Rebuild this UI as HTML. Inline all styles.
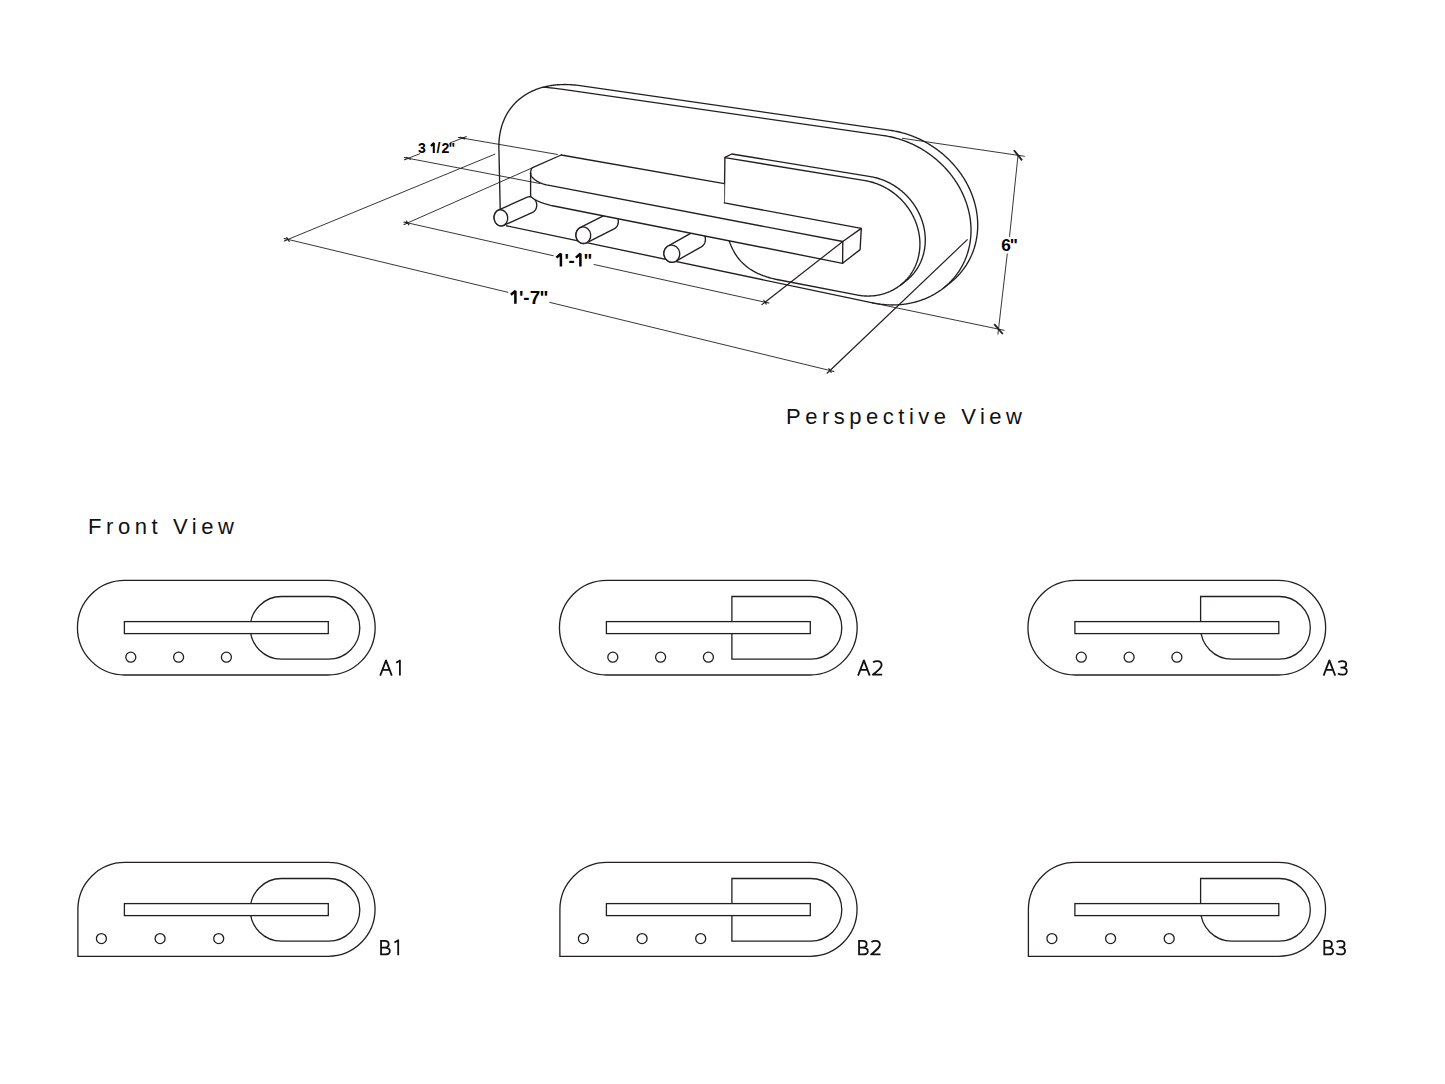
<!DOCTYPE html>
<html><head><meta charset="utf-8">
<style>
html,body{margin:0;padding:0;background:#fff;width:1445px;height:1084px;overflow:hidden}
svg{display:block}
.t{font-family:"Liberation Sans",sans-serif;fill:#111}
.fv{fill:none;stroke:#231f20;stroke-width:1.3}
.wb{fill:#fff;stroke:#231f20;stroke-width:1.3}
</style></head><body>
<svg width="1445" height="1084" viewBox="0 0 1445 1084">
<defs>
  <path id="outA" d="M124.7,580.4H327.9A47.3,47.3 0 0 1 327.9,675H124.7A47.3,47.3 0 0 1 124.7,580.4Z"/>
  <path id="outB" d="M77.9,956.3V909.4A47,47 0 0 1 124.9,862.4H328.1A46.95,46.95 0 0 1 328.1,956.3Z"/>
  <path id="in1" d="M281.5,596.5H328.5A31.3,31.3 0 0 1 328.5,659.1H281.5A31.3,31.3 0 0 1 281.5,596.5Z"/>
  <path id="in2" d="M249.9,596.5H328.5A31.3,31.3 0 0 1 328.5,659.1H249.9Z"/>
  <path id="in3" d="M250.1,596.5H328.5A31.3,31.3 0 0 1 328.5,659.1H281.4A31.3,31.3 0 0 1 250.1,627.8Z"/>
  <rect id="bar" x="124.4" y="621.6" width="203.9" height="12"/>
  <g id="holesA"><circle cx="130.8" cy="657.2" r="5"/><circle cx="178.6" cy="657.2" r="5"/><circle cx="226.4" cy="657.2" r="5"/></g>
  <g id="holesB"><circle cx="101.4" cy="656.6" r="5"/><circle cx="160.1" cy="656.6" r="5"/><circle cx="218.7" cy="656.6" r="5"/></g>
</defs>

<!-- Front views row A -->
<g class="fv">
  <use href="#outA"/><use href="#in1"/><use href="#bar" class="wb"/><use href="#holesA"/>
  <g transform="translate(482,0)"><use href="#outA"/><use href="#in2"/><use href="#bar" class="wb"/><use href="#holesA"/></g>
  <g transform="translate(950.5,0)"><use href="#outA"/><use href="#in3"/><use href="#bar" class="wb"/><use href="#holesA"/></g>
</g>
<!-- Front views row B -->
<g class="fv">
  <use href="#outB"/>
  <g transform="translate(0,282)"><use href="#in1"/><use href="#bar" class="wb"/><use href="#holesB"/></g>
  <g transform="translate(482,0)"><use href="#outB"/><g transform="translate(0,282)"><use href="#in2"/><use href="#bar" class="wb"/><use href="#holesB"/></g></g>
  <g transform="translate(950.5,0)"><use href="#outB"/><g transform="translate(0,282)"><use href="#in3"/><use href="#bar" class="wb"/><use href="#holesB"/></g></g>
</g>

<g fill="none" stroke="#111" stroke-width="1.8" stroke-linejoin="round">
  <g role="img" aria-label="A1"><path transform="translate(380.2,675.6)" d="M0,0L5.8,-15.2L11.6,0M2.7,-5.8H8.9"/><path transform="translate(0,675.6)" d="M396.20,-12.8L399.90,-15.1V0"/></g>
  <g role="img" aria-label="A2"><path transform="translate(858.1,675.6)" d="M0,0L5.8,-15.2L11.6,0M2.7,-5.8H8.9"/><path transform="translate(872.6,675.6)" d="M0.5,-13.3C1.6,-14.1 3,-14.5 4.6,-14.5C7.3,-14.5 9,-12.9 9,-10.7C9,-8.2 7.2,-6.3 0.2,-0.9H9.6"/></g>
  <g role="img" aria-label="A3"><path transform="translate(1323.6,675.6)" d="M0,0L5.8,-15.2L11.6,0M2.7,-5.8H8.9"/><path transform="translate(1337.9,675.6)" d="M0.4,-13.4C1.5,-14.1 2.8,-14.5 4.3,-14.5C6.9,-14.5 8.3,-13.1 8.3,-11.3C8.3,-9.2 6.5,-7.9 4.4,-7.9H2.5M4.4,-7.9C7,-7.9 8.9,-6.3 8.9,-4C8.9,-1.8 7,-0.9 4.3,-0.9C2.7,-0.9 1.1,-1.3 0,-2"/></g>
  <g role="img" aria-label="B1"><path transform="translate(381.05,955.3)" d="M0,0V-15.3M0,-14.4H3.7C6.3,-14.4 7.6,-13 7.6,-11.1C7.6,-9.1 6.1,-7.7 3.5,-7.7H0M3.5,-7.7C6.9,-7.7 8.8,-6.2 8.8,-4C8.8,-1.9 7,-0.9 4,-0.9H0"/><path transform="translate(0,955.3)" d="M394.50,-12.8L398.20,-15.1V0"/></g>
  <g role="img" aria-label="B2"><path transform="translate(859.05,955.3)" d="M0,0V-15.3M0,-14.4H3.7C6.3,-14.4 7.6,-13 7.6,-11.1C7.6,-9.1 6.1,-7.7 3.5,-7.7H0M3.5,-7.7C6.9,-7.7 8.8,-6.2 8.8,-4C8.8,-1.9 7,-0.9 4,-0.9H0"/><path transform="translate(870.9,955.3)" d="M0.5,-13.3C1.6,-14.1 3,-14.5 4.6,-14.5C7.3,-14.5 9,-12.9 9,-10.7C9,-8.2 7.2,-6.3 0.2,-0.9H9.6"/></g>
  <g role="img" aria-label="B3"><path transform="translate(1324.3,955.3)" d="M0,0V-15.3M0,-14.4H3.7C6.3,-14.4 7.6,-13 7.6,-11.1C7.6,-9.1 6.1,-7.7 3.5,-7.7H0M3.5,-7.7C6.9,-7.7 8.8,-6.2 8.8,-4C8.8,-1.9 7,-0.9 4,-0.9H0"/><path transform="translate(1336.2,955.3)" d="M0.4,-13.4C1.5,-14.1 2.8,-14.5 4.3,-14.5C6.9,-14.5 8.3,-13.1 8.3,-11.3C8.3,-9.2 6.5,-7.9 4.4,-7.9H2.5M4.4,-7.9C7,-7.9 8.9,-6.3 8.9,-4C8.9,-1.8 7,-0.9 4.3,-0.9C2.7,-0.9 1.1,-1.3 0,-2"/></g>
</g>
<g class="t" style="font-size:22px">
  <text x="88" y="533.6" letter-spacing="4.58">Front View</text>
  <text x="786.1" y="424.1" letter-spacing="4.5">Perspective View</text>
</g>

<!-- PERSPECTIVE -->
<g id="persp">
<g fill="none" stroke="#231f20" stroke-width="1.35" stroke-linejoin="round" stroke-linecap="round"><path d="M500.20,208.80L498.88,148.26L498.86,146.60L498.87,144.97L498.92,143.39L499.00,141.84L499.10,140.34L499.23,138.86L499.39,137.42L499.57,136.02L499.78,134.65L500.01,133.32L500.26,132.01L500.53,130.74L500.81,129.50L501.12,128.30L501.44,127.12L501.78,125.97L502.13,124.85L502.50,123.76L502.88,122.70L503.27,121.66L503.68,120.65L504.09,119.67L504.52,118.71L504.95,117.78L505.39,116.87L505.84,115.98L506.30,115.12L506.77,114.28L507.24,113.46L507.72,112.66L508.20,111.88L508.69,111.13L509.18,110.39L509.68,109.67L510.18,108.97L510.69,108.29L511.20,107.62L511.71,106.97L512.23,106.34L512.75,105.72L513.27,105.12L513.79,104.53L514.32,103.96L514.85,103.40L515.38,102.85L515.92,102.32L516.45,101.80L516.99,101.29L517.53,100.79L518.08,100.30L518.62,99.82L519.17,99.36L519.72,98.90L520.28,98.46L520.83,98.02L521.39,97.59L521.95,97.17L522.52,96.76L523.09,96.36L523.66,95.97L524.24,95.58L524.81,95.20L525.40,94.83L525.99,94.47L526.58,94.11L527.17,93.76L527.78,93.41L528.38,93.08L529.00,92.74L529.62,92.42L530.24,92.10L530.87,91.78L531.51,91.47L532.16,91.17L532.81,90.87L533.47,90.58L534.14,90.29L534.82,90.01L535.51,89.73L536.21,89.46L536.92,89.19L537.64,88.93L538.37,88.67L539.12,88.42L539.88,88.18L540.65,87.93L541.43,87.70L542.23,87.47L543.04,87.25L543.88,87.03L544.72,86.82L545.59,86.61L546.47,86.42L547.38,86.22L548.30,86.04L549.25,85.86L550.22,85.70L551.21,85.54L552.23,85.39L553.27,85.25L554.34,85.11L555.44,84.99L556.56,84.89L557.72,84.79L558.91,84.71L560.14,84.64L561.40,84.59L562.70,84.55L564.04,84.53L565.41,84.53L566.83,84.55L568.30,84.59L569.81,84.65L571.37,84.74L572.98,84.86L574.64,85.01L576.36,85.19L578.13,85.40L579.97,85.65L890.52,130.37L891.61,130.53L892.70,130.71L893.78,130.89L894.87,131.09L895.95,131.30L897.02,131.53L898.09,131.76L899.16,132.01L900.23,132.26L901.29,132.53L902.35,132.81L903.40,133.10L904.45,133.40L905.49,133.72L906.53,134.04L907.57,134.37L908.60,134.72L909.63,135.07L910.66,135.44L911.67,135.82L912.69,136.20L913.70,136.60L914.71,137.01L915.71,137.43L916.71,137.86L917.70,138.30L918.68,138.74L919.67,139.20L920.64,139.67L921.62,140.15L922.59,140.64L923.55,141.14L924.51,141.65L925.46,142.16L926.41,142.69L927.35,143.23L928.28,143.78L929.22,144.33L930.14,144.90L931.06,145.48L931.98,146.06L932.89,146.66L933.79,147.26L934.69,147.88L935.58,148.50L936.47,149.14L937.35,149.78L938.22,150.43L939.09,151.10L939.96,151.77L940.81,152.45L941.66,153.14L942.51,153.84L943.34,154.55L944.18,155.27L945.00,156.00L945.82,156.74L946.63,157.48L947.43,158.24L948.23,159.01L949.02,159.78L949.80,160.57L950.58,161.36L951.35,162.17L952.11,162.98L952.86,163.80L953.61,164.63L954.35,165.48L955.08,166.33L955.80,167.19L956.51,168.06L957.22,168.93L957.91,169.82L958.60,170.72L959.28,171.63L959.95,172.54L960.61,173.47L961.26,174.40L961.90,175.34L962.54,176.29L963.16,177.26L963.77,178.23L964.37,179.20L964.96,180.19L965.55,181.19L966.12,182.20L966.68,183.21L967.23,184.23L967.76,185.26L968.29,186.30L968.80,187.35L969.31,188.41L969.80,189.48L970.27,190.55L970.74,191.63L971.19,192.72L971.63,193.82L972.06,194.92L972.47,196.04L972.87,197.16L973.25,198.28L973.62,199.42L973.98,200.56L974.32,201.71L974.65,202.86L974.96,204.02L975.25,205.19L975.54,206.37L975.80,207.55L976.05,208.73L976.28,209.92L976.50,211.12L976.69,212.32L976.88,213.53L977.04,214.74L977.19,215.95L977.32,217.17L977.43,218.39L977.52,219.62L977.60,220.85L977.65,222.08L977.69,223.31L977.71,224.55L977.71,225.79L977.69,227.03L977.65,228.27L977.59,229.51L977.51,230.75L977.41,231.99L977.29,233.23L977.15,234.47L976.99,235.71L976.81,236.95L976.61,238.18L976.39,239.41L976.15,240.64L975.88,241.87L975.60,243.09L975.30,244.31L974.97,245.52L974.62,246.73L974.26,247.94L973.87,249.14L973.46,250.33L973.03,251.51L972.58,252.69L972.11,253.86L971.62,255.02L971.10,256.17L970.57,257.32L970.02,258.45L969.45,259.58L968.85,260.69L968.24,261.80L967.61,262.89L966.96,263.97L966.29,265.05L965.60,266.10L964.89,267.15L964.16,268.18L963.42,269.20L962.66,270.21L961.88,271.20L961.08,272.18L960.27,273.14L959.44,274.09L958.59,275.02L957.73,275.94L956.85,276.84L955.96,277.73L955.05,278.60L954.13,279.45L953.19,280.29L952.24,281.11L951.28,281.91L950.31,282.70L943.61,287.93"/><path d="M542.62,87.36L542.96,87.31L543.50,87.30L544.23,87.31L545.13,87.36L546.20,87.43L547.41,87.53L548.76,87.65L550.24,87.80L551.83,87.97L553.52,88.16L555.29,88.37L557.14,88.61L559.05,88.86L561.01,89.12L563.00,89.40L883.82,135.60L884.91,135.77L886.00,135.94L887.08,136.13L888.17,136.33L889.25,136.54L890.32,136.76L891.39,137.00L892.46,137.24L893.53,137.50L894.59,137.77L895.65,138.05L896.70,138.34L897.75,138.64L898.79,138.95L899.83,139.28L900.87,139.61L901.90,139.95L902.93,140.31L903.96,140.68L904.97,141.05L905.99,141.44L907.00,141.84L908.01,142.25L909.01,142.66L910.01,143.09L911.00,143.53L911.98,143.98L912.97,144.44L913.94,144.91L914.92,145.39L915.89,145.87L916.85,146.37L917.81,146.88L918.76,147.40L919.71,147.93L920.65,148.46L921.58,149.01L922.52,149.57L923.44,150.14L924.36,150.71L925.28,151.30L926.19,151.89L927.09,152.50L927.99,153.11L928.88,153.74L929.77,154.37L930.65,155.02L931.52,155.67L932.39,156.33L933.26,157.00L934.11,157.68L934.96,158.38L935.81,159.08L936.64,159.79L937.48,160.50L938.30,161.23L939.12,161.97L939.93,162.72L940.73,163.48L941.53,164.24L942.32,165.02L943.10,165.80L943.88,166.60L944.65,167.40L945.41,168.21L946.16,169.04L946.91,169.87L947.65,170.71L948.38,171.56L949.10,172.42L949.81,173.29L950.52,174.17L951.21,175.06L951.90,175.95L952.58,176.86L953.25,177.78L953.91,178.70L954.56,179.63L955.20,180.58L955.84,181.53L956.46,182.49L957.07,183.46L957.67,184.44L958.26,185.43L958.85,186.42L959.42,187.43L959.98,188.44L960.53,189.47L961.06,190.50L961.59,191.54L962.10,192.59L962.61,193.65L963.10,194.71L963.57,195.78L964.04,196.87L964.49,197.96L964.93,199.05L965.36,200.16L965.77,201.27L966.17,202.39L966.55,203.52L966.92,204.65L967.28,205.79L967.62,206.94L967.95,208.10L968.26,209.26L968.55,210.43L968.84,211.60L969.10,212.78L969.35,213.97L969.58,215.16L969.80,216.36L969.99,217.56L970.18,218.76L970.34,219.97L970.49,221.19L970.62,222.41L970.73,223.63L970.82,224.85L970.90,226.08L970.95,227.31L970.99,228.55L971.01,229.78L971.01,231.02L970.99,232.26L970.95,233.50L970.89,234.74L970.81,235.98L970.71,237.22L970.59,238.47L970.45,239.71L970.29,240.94L970.11,242.18L969.91,243.42L969.69,244.65L969.45,245.88L969.18,247.10L968.90,248.33L968.60,249.55L968.27,250.76L967.92,251.97L967.56,253.17L967.17,254.37L966.76,255.56L966.33,256.75L965.88,257.92L965.41,259.09L964.92,260.26L964.40,261.41L963.87,262.55L963.32,263.69L962.75,264.81L962.15,265.93L961.54,267.03L960.91,268.13L960.26,269.21L959.59,270.28L958.90,271.34L958.19,272.38L957.46,273.42L956.72,274.44L955.96,275.44L955.18,276.44L954.38,277.41L953.57,278.38L952.74,279.33L951.89,280.26L951.03,281.18L950.15,282.08L949.26,282.97L948.35,283.84L947.43,284.69L946.49,285.53L945.54,286.35L944.58,287.15L943.61,287.93L942.62,288.70L941.62,289.45L940.61,290.19L939.58,290.90L938.55,291.60L937.51,292.28L936.45,292.94L935.39,293.59L934.32,294.21L933.24,294.82L932.15,295.41L931.05,295.98L929.94,296.53L928.83,297.06L927.72,297.58L926.59,298.08L925.46,298.56L924.32,299.02L923.18,299.46L922.04,299.88L920.89,300.29L919.74,300.68L918.58,301.05L917.42,301.40L916.25,301.74L915.09,302.06L913.92,302.36L912.75,302.64L911.58,302.91L910.41,303.16L909.23,303.39L908.06,303.60L906.88,303.80L905.71,303.99L904.53,304.15L903.36,304.30L902.18,304.44L901.01,304.55L899.84,304.66L898.67,304.74L897.50,304.81L896.33,304.87L895.17,304.91L894.01,304.94L892.85,304.95L891.69,304.95L890.53,304.93L889.38,304.90L888.23,304.86L887.09,304.80L885.95,304.73L884.81,304.64L883.67,304.54L882.54,304.43L881.41,304.30L880.29,304.17L879.17,304.02L878.06,303.85L876.95,303.68L875.84,303.49L874.74,303.29L873.65,303.08L872.56,302.85"/><path d="M506.50,225.80L872.56,302.85"/><path d="M724.30,202.90L724.90,157.40L731.80,154.00L870.58,176.65L871.47,176.80L872.36,176.96L873.25,177.14L874.13,177.33L875.01,177.54L875.89,177.75L876.76,177.98L877.62,178.22L878.48,178.48L879.34,178.74L880.19,179.02L881.04,179.31L881.88,179.61L882.72,179.92L883.55,180.24L884.37,180.58L885.19,180.92L886.00,181.27L886.81,181.64L887.61,182.02L888.41,182.40L889.20,182.80L889.98,183.21L890.76,183.63L891.53,184.05L892.30,184.49L893.06,184.94L893.81,185.40L894.55,185.86L895.29,186.34L896.02,186.83L896.75,187.32L897.47,187.82L898.18,188.34L898.88,188.86L899.58,189.39L900.27,189.93L900.96,190.48L901.63,191.04L902.30,191.61L902.96,192.18L903.61,192.76L904.26,193.36L904.90,193.96L905.53,194.56L906.15,195.18L906.77,195.81L907.38,196.44L907.97,197.08L908.57,197.73L909.15,198.39L909.72,199.05L910.29,199.73L910.85,200.41L911.40,201.09L911.94,201.79L912.47,202.49L912.99,203.21L913.51,203.92L914.01,204.65L914.51,205.38L914.99,206.12L915.47,206.87L915.94,207.63L916.40,208.39L916.85,209.16L917.28,209.93L917.71,210.72L918.13,211.51L918.54,212.30L918.94,213.11L919.32,213.91L919.70,214.73L920.07,215.55L920.42,216.38L920.77,217.22L921.10,218.06L921.42,218.90L921.73,219.76L922.03,220.61L922.31,221.48L922.59,222.35L922.85,223.22L923.10,224.10L923.33,224.99L923.56,225.88L923.77,226.77L923.97,227.67L924.15,228.57L924.32,229.48L924.48,230.39L924.63,231.31L924.76,232.23L924.87,233.15L924.97,234.08L925.06,235.01L925.13,235.94L925.19,236.88L925.24,237.81L925.26,238.75L925.28,239.69L925.27,240.64L925.25,241.58L925.22,242.53L925.17,243.47L925.10,244.42L925.02,245.36L924.92,246.31L924.81,247.26L924.68,248.20L924.53,249.14L924.36,250.09L924.18,251.03L923.98,251.97L923.77,252.90L923.54,253.83L923.29,254.76L923.02,255.69L922.74,256.61L922.44,257.53L922.12,258.44L921.78,259.35L921.43,260.25L921.06,261.15L920.67,262.03L920.27,262.92L919.85,263.79L919.41,264.66L918.96,265.52L918.49,266.37L918.00,267.21L917.49,268.05L916.97,268.87L916.44,269.68L915.89,270.49L915.32,271.28L914.73,272.06L914.14,272.83L913.52,273.59L912.89,274.34L912.25,275.07L911.59,275.79L910.92,276.50L910.23,277.19L909.53,277.88L908.82,278.54L908.10,279.19L907.36,279.83L906.61,280.46L905.85,281.06L900.50,285.09"/><path d="M724.90,157.60L865.23,180.67L866.12,180.83L867.01,180.99L867.90,181.17L868.78,181.36L869.66,181.57L870.54,181.78L871.41,182.01L872.27,182.25L873.13,182.51L873.99,182.77L874.84,183.05L875.69,183.34L876.53,183.64L877.37,183.95L878.20,184.27L879.02,184.60L879.84,184.95L880.65,185.30L881.46,185.67L882.26,186.05L883.06,186.43L883.85,186.83L884.63,187.24L885.41,187.66L886.18,188.08L886.95,188.52L887.71,188.97L888.46,189.42L889.20,189.89L889.94,190.37L890.67,190.85L891.40,191.35L892.12,191.85L892.83,192.37L893.53,192.89L894.23,193.42L894.92,193.96L895.61,194.51L896.28,195.07L896.95,195.63L897.61,196.21L898.26,196.79L898.91,197.38L899.55,197.98L900.18,198.59L900.80,199.21L901.42,199.83L902.03,200.47L902.62,201.11L903.22,201.76L903.80,202.42L904.37,203.08L904.94,203.75L905.50,204.43L906.05,205.12L906.59,205.82L907.12,206.52L907.64,207.23L908.16,207.95L908.66,208.68L909.16,209.41L909.64,210.15L910.12,210.90L910.59,211.65L911.05,212.42L911.50,213.19L911.93,213.96L912.36,214.74L912.78,215.53L913.19,216.33L913.59,217.13L913.97,217.94L914.35,218.76L914.72,219.58L915.07,220.41L915.42,221.24L915.75,222.08L916.07,222.93L916.38,223.78L916.68,224.64L916.96,225.51L917.24,226.38L917.50,227.25L917.75,228.13L917.98,229.01L918.21,229.90L918.42,230.80L918.62,231.70L918.80,232.60L918.97,233.51L919.13,234.42L919.28,235.34L919.41,236.26L919.52,237.18L919.62,238.11L919.71,239.04L919.78,239.97L919.84,240.90L919.89,241.84L919.91,242.78L919.93,243.72L919.92,244.66L919.90,245.61L919.87,246.55L919.82,247.50L919.75,248.45L919.67,249.39L919.57,250.34L919.46,251.28L919.33,252.23L919.18,253.17L919.01,254.11L918.83,255.06L918.63,255.99L918.42,256.93L918.19,257.86L917.94,258.79L917.67,259.72L917.39,260.64L917.09,261.56L916.77,262.47L916.43,263.38L916.08,264.28L915.71,265.17L915.32,266.06L914.92,266.95L914.50,267.82L914.06,268.69L913.61,269.55L913.14,270.40L912.65,271.24L912.14,272.07L911.62,272.90L911.09,273.71L910.54,274.52L909.97,275.31L909.38,276.09L908.79,276.86L908.17,277.62L907.54,278.36L906.90,279.10L906.24,279.82L905.57,280.53L904.88,281.22L904.18,281.90L903.47,282.57L902.75,283.22L902.01,283.86L901.26,284.48L900.50,285.09L899.73,285.68L898.94,286.26L898.15,286.82L897.34,287.37L896.53,287.90L895.70,288.41L894.87,288.91L894.03,289.39L893.18,289.86L892.32,290.30L891.45,290.73L890.58,291.15L889.70,291.55L888.81,291.93L887.92,292.29L887.02,292.64L886.11,292.96L885.20,293.28L884.29,293.57L883.37,293.85L882.45,294.11L881.53,294.36L880.60,294.58L879.67,294.79L878.74,294.99L877.81,295.16L876.87,295.33L875.94,295.47L875.00,295.60L874.06,295.71L873.12,295.81L872.19,295.89L871.25,295.95L870.31,296.00L869.38,296.03L868.44,296.05L867.51,296.05L866.58,296.04L865.65,296.01L864.72,295.97L863.80,295.91L862.88,295.84L861.96,295.76L861.05,295.66L860.13,295.54L859.23,295.42L858.32,295.28L857.42,295.12L856.52,294.96L778.13,279.75L775.57,279.22L773.15,278.66L770.88,278.09L768.73,277.48L766.70,276.86L764.78,276.22L762.96,275.57L761.24,274.90L759.61,274.21L758.06,273.52L756.59,272.82L755.19,272.10L753.86,271.39L752.60,270.66L751.40,269.93L750.26,269.20L749.17,268.46L748.14,267.73L747.16,266.99L746.22,266.25L745.33,265.52L744.48,264.78L743.67,264.05L742.89,263.32L742.15,262.59L741.45,261.86L740.77,261.14L740.13,260.42L739.51,259.71L738.91,258.99L738.35,258.28L737.80,257.57L737.27,256.86L736.77,256.16L736.28,255.45L735.81,254.75L735.36,254.04L734.92,253.33L734.50,252.63L734.09,251.92L733.69,251.20L733.30,250.49L732.93,249.77L732.56,249.04L732.21,248.31L731.86,247.56L731.52,246.81L731.19,246.05L730.86,245.28L730.55,244.49L730.23,243.70L729.93,242.88L729.63,242.05L729.33,241.19L729.04,240.32L728.76,239.42L728.48,238.49L728.20,237.54L727.93,236.56L727.66,235.54L727.40,234.48L727.14,233.38L726.89,232.24L726.64,231.04L726.40,229.79L726.16,228.48L725.93,227.10L725.71,225.65L725.50,224.11L725.29,222.49L725.10,220.76L724.92,218.92L724.76,216.95L724.61,214.85L724.49,212.58L724.39,210.14L724.33,207.50L724.30,204.63L724.32,201.51"/></g>
<g fill="#fff" stroke="#231f20" stroke-width="1.35" stroke-linejoin="round"><path d="M532.57,212.38L532.62,212.35L532.68,212.33L532.73,212.30L532.79,212.28L532.84,212.25L532.89,212.22L532.95,212.19L533.00,212.17L533.05,212.14L533.11,212.11L533.16,212.08L533.21,212.05L533.26,212.01L533.31,211.98L533.37,211.95L533.42,211.92L533.47,211.88L533.52,211.85L533.57,211.81L533.62,211.78L533.67,211.74L533.72,211.71L533.77,211.67L533.82,211.63L533.87,211.59L533.91,211.56L533.96,211.52L534.01,211.48L534.06,211.44L534.10,211.40L534.15,211.36L534.20,211.32L534.24,211.27L534.29,211.23L534.33,211.19L534.38,211.14L534.42,211.10L534.47,211.06L534.51,211.01L534.56,210.97L534.60,210.92L534.64,210.87L534.69,210.83L534.73,210.78L534.77,210.73L534.81,210.68L534.85,210.64L534.89,210.59L534.93,210.54L534.97,210.49L535.01,210.44L535.05,210.39L535.09,210.34L535.13,210.28L535.17,210.23L535.21,210.18L535.24,210.13L535.28,210.07L535.32,210.02L535.35,209.97L535.39,209.91L535.42,209.86L535.46,209.80L535.49,209.75L535.53,209.69L535.56,209.63L535.59,209.58L535.63,209.52L535.66,209.46L535.69,209.41L535.72,209.35L535.75,209.29L535.78,209.23L535.81,209.17L535.84,209.11L535.87,209.05L535.90,208.99L535.93,208.93L535.96,208.87L535.98,208.81L536.01,208.75L536.04,208.69L536.06,208.63L536.09,208.56L536.11,208.50L536.14,208.44L536.16,208.37L536.18,208.31L536.21,208.25L536.23,208.18L536.25,208.12L536.27,208.06L536.30,207.99L536.32,207.93L536.34,207.86L536.36,207.80L536.37,207.73L536.39,207.66L536.41,207.60L536.43,207.53L536.45,207.47L536.46,207.40L536.48,207.33L536.50,207.27L536.51,207.20L536.52,207.13L536.54,207.06L536.55,207.00L536.57,206.93L536.58,206.86L536.59,206.79L536.60,206.72L536.61,206.65L536.62,206.59L536.63,206.52L536.64,206.45L536.65,206.38L536.66,206.31L536.67,206.24L536.68,206.17L536.68,206.10L536.69,206.03L536.70,205.96L536.70,205.89L536.71,205.82L536.71,205.75L536.71,205.68L536.72,205.61L536.72,205.54L536.72,205.47L536.73,205.40L536.73,205.33L536.73,205.26L536.73,205.19L536.73,205.12L536.73,205.05L536.73,204.98L536.72,204.91L536.72,204.84L536.72,204.77L536.71,204.70L536.71,204.63L536.71,204.56L536.70,204.49L536.70,204.42L536.69,204.35L536.68,204.27L536.68,204.20L536.67,204.13L536.66,204.06L536.65,203.99L536.64,203.92L536.63,203.85L536.62,203.78L536.61,203.71L536.60,203.64L536.59,203.57L536.58,203.50L536.57,203.44L536.55,203.37L536.54,203.30L536.52,203.23L536.51,203.16L536.49,203.09L536.48,203.02L536.46,202.95L536.45,202.88L536.43,202.81L536.41,202.75L536.39,202.68L536.37,202.61L536.36,202.54L536.34,202.48L536.32,202.41L536.30,202.34L536.27,202.27L536.25,202.21L536.23,202.14L536.21,202.07L536.18,202.01L536.16,201.94L536.14,201.88L536.11,201.81L536.09,201.74L536.06,201.68L536.04,201.61L536.01,201.55L535.98,201.49L535.96,201.42L535.93,201.36L535.90,201.29L535.87,201.23L535.84,201.17L535.81,201.10L535.78,201.04L535.75,200.98L535.72,200.92L535.69,200.86L535.66,200.79L535.63,200.73L535.59,200.67L535.56,200.61L535.53,200.55L535.49,200.49L535.46,200.43L535.42,200.37L535.39,200.32L535.35,200.26L535.32,200.20L535.28,200.14L535.24,200.08L535.21,200.03L535.17,199.97L535.13,199.91L535.09,199.86L535.05,199.80L535.01,199.75L534.97,199.69L534.93,199.64L534.89,199.58L534.85,199.53L534.81,199.48L534.77,199.42L534.73,199.37L534.69,199.32L534.64,199.27L534.60,199.22L534.56,199.17L534.51,199.12L534.47,199.07L534.42,199.02L534.38,198.97L534.33,198.92L534.29,198.87L534.24,198.82L534.20,198.78L534.15,198.73L534.10,198.68L534.06,198.64L534.01,198.59L533.96,198.55L533.91,198.50L533.86,198.46L533.82,198.42L533.77,198.37L533.72,198.33L533.67,198.29L533.62,198.25L533.57,198.21L533.52,198.17L533.47,198.13L533.42,198.09L533.36,198.05L533.31,198.01L533.26,197.97L533.21,197.93L533.16,197.90L533.10,197.86L533.05,197.82L533.00,197.79L532.95,197.75L532.89,197.72L532.84,197.69L532.79,197.65L532.73,197.62L532.68,197.59L532.62,197.56L532.57,197.53L532.51,197.50L532.46,197.47L532.40,197.44L532.35,197.41L532.29,197.38L532.23,197.35L532.18,197.33L532.12,197.30L532.07,197.27L532.01,197.25L531.95,197.22L531.90,197.20L531.84,197.18L531.78,197.15L531.72,197.13L531.67,197.11L531.61,197.09L531.55,197.07L531.49,197.05L531.44,197.03L531.38,197.01L531.32,196.99L531.26,196.97L531.20,196.96L531.14,196.94L531.09,196.92L531.03,196.91L530.97,196.89L530.91,196.88L530.85,196.87L530.79,196.85L530.73,196.84L530.67,196.83L530.61,196.82L530.55,196.81L530.49,196.80L530.44,196.79L530.38,196.78L530.32,196.77L530.26,196.76L530.20,196.76L530.14,196.75L530.08,196.75L530.02,196.74L529.96,196.74L529.90,196.73L529.84,196.73L529.78,196.73L529.72,196.73L529.66,196.72L529.60,196.72L529.54,196.72L529.48,196.72L529.42,196.73L529.36,196.73L529.30,196.73L529.25,196.73L529.19,196.74L529.13,196.74L529.07,196.75L529.01,196.75L528.95,196.76L528.89,196.76L528.83,196.77L528.77,196.78L528.71,196.79L528.66,196.80L528.60,196.81L528.54,196.82L528.48,196.83L528.42,196.84L528.36,196.85L528.31,196.86L528.25,196.88L528.19,196.89L528.13,196.91L528.07,196.92L528.02,196.94L527.96,196.95L527.90,196.97L527.85,196.99L527.79,197.01L527.73,197.03L527.68,197.05L527.62,197.07L527.56,197.09L527.51,197.11L527.45,197.13L527.40,197.15L527.34,197.17L527.29,197.20L527.23,197.22L498.23,210.22L498.18,210.25L498.12,210.27L498.07,210.30L498.01,210.32L497.96,210.35L497.91,210.38L497.85,210.41L497.80,210.43L497.75,210.46L497.69,210.49L497.64,210.52L497.59,210.55L497.54,210.59L497.49,210.62L497.43,210.65L497.38,210.68L497.33,210.72L497.28,210.75L497.23,210.79L497.18,210.82L497.13,210.86L497.08,210.89L497.03,210.93L496.98,210.97L496.93,211.01L496.89,211.04L496.84,211.08L496.79,211.12L496.74,211.16L496.70,211.20L496.65,211.24L496.60,211.28L496.56,211.33L496.51,211.37L496.47,211.41L496.42,211.46L496.38,211.50L496.33,211.54L496.29,211.59L496.24,211.63L496.20,211.68L496.16,211.73L496.11,211.77L496.07,211.82L496.03,211.87L495.99,211.92L495.95,211.96L495.91,212.01L495.87,212.06L495.83,212.11L495.79,212.16L495.75,212.21L495.71,212.26L495.67,212.32L495.63,212.37L495.59,212.42L495.56,212.47L495.52,212.53L495.48,212.58L495.45,212.63L495.41,212.69L495.38,212.74L495.34,212.80L495.31,212.85L495.27,212.91L495.24,212.97L495.21,213.02L495.17,213.08L495.14,213.14L495.11,213.19L495.08,213.25L495.05,213.31L495.02,213.37L494.99,213.43L494.96,213.49L494.93,213.55L494.90,213.61L494.87,213.67L494.84,213.73L494.82,213.79L494.79,213.85L494.76,213.91L494.74,213.97L494.71,214.04L494.69,214.10L494.66,214.16L494.64,214.23L494.62,214.29L494.59,214.35L494.57,214.42L494.55,214.48L494.53,214.54L494.50,214.61L494.48,214.67L494.46,214.74L494.44,214.80L494.43,214.87L494.41,214.94L494.39,215.00L494.37,215.07L494.35,215.13L494.34,215.20L494.32,215.27L494.30,215.33L494.29,215.40L494.28,215.47L494.26,215.54L494.25,215.60L494.23,215.67L494.22,215.74L494.21,215.81L494.20,215.88L494.19,215.95L494.18,216.01L494.17,216.08L494.16,216.15L494.15,216.22L494.14,216.29L494.13,216.36L494.12,216.43L494.12,216.50L494.11,216.57L494.10,216.64L494.10,216.71L494.09,216.78L494.09,216.85L494.09,216.92L494.08,216.99L494.08,217.06L494.08,217.13L494.07,217.20L494.07,217.27L494.07,217.34L494.07,217.41L494.07,217.48L494.07,217.55L494.07,217.62L494.08,217.69L494.08,217.76L494.08,217.83L494.09,217.90L494.09,217.97L494.09,218.04L494.10,218.11L494.10,218.18L494.11,218.25L494.12,218.33L494.12,218.40L494.13,218.47L494.14,218.54L494.15,218.61L494.16,218.68L494.17,218.75L494.18,218.82L494.19,218.89L494.20,218.96L494.21,219.03L494.22,219.10L494.23,219.16L494.25,219.23L494.26,219.30L494.28,219.37L494.29,219.44L494.31,219.51L494.32,219.58L494.34,219.65L494.35,219.72L494.37,219.79L494.39,219.85L494.41,219.92L494.43,219.99L494.44,220.06L494.46,220.12L494.48,220.19L494.50,220.26L494.53,220.33L494.55,220.39L494.57,220.46L494.59,220.53L494.62,220.59L494.64,220.66L494.66,220.72L494.69,220.79L494.71,220.86L494.74,220.92L494.76,220.99L494.79,221.05L494.82,221.11L494.84,221.18L494.87,221.24L494.90,221.31L494.93,221.37L494.96,221.43L494.99,221.50L495.02,221.56L495.05,221.62L495.08,221.68L495.11,221.74L495.14,221.81L495.17,221.87L495.21,221.93L495.24,221.99L495.27,222.05L495.31,222.11L495.34,222.17L495.38,222.23L495.41,222.28L495.45,222.34L495.48,222.40L495.52,222.46L495.56,222.52L495.59,222.57L495.63,222.63L495.67,222.69L495.71,222.74L495.75,222.80L495.79,222.85L495.83,222.91L495.87,222.96L495.91,223.02L495.95,223.07L495.99,223.12L496.03,223.18L496.07,223.23L496.11,223.28L496.16,223.33L496.20,223.38L496.24,223.43L496.29,223.48L496.33,223.53L496.38,223.58L496.42,223.63L496.47,223.68L496.51,223.73L496.56,223.78L496.60,223.82L496.65,223.87L496.70,223.92L496.74,223.96L496.79,224.01L496.84,224.05L496.89,224.10L496.94,224.14L496.98,224.18L497.03,224.23L497.08,224.27L497.13,224.31L497.18,224.35L497.23,224.39L497.28,224.43L497.33,224.47L497.38,224.51L497.44,224.55L497.49,224.59L497.54,224.63L497.59,224.67L497.64,224.70L497.70,224.74L497.75,224.78L497.80,224.81L497.85,224.85L497.91,224.88L497.96,224.91L498.01,224.95L498.07,224.98L498.12,225.01L498.18,225.04L498.23,225.07L498.29,225.10L498.34,225.13L498.40,225.16L498.45,225.19L498.51,225.22L498.57,225.25L498.62,225.27L498.68,225.30L498.73,225.33L498.79,225.35L498.85,225.38L498.90,225.40L498.96,225.42L499.02,225.45L499.08,225.47L499.13,225.49L499.19,225.51L499.25,225.53L499.31,225.55L499.36,225.57L499.42,225.59L499.48,225.61L499.54,225.63L499.60,225.64L499.66,225.66L499.71,225.68L499.77,225.69L499.83,225.71L499.89,225.72L499.95,225.73L500.01,225.75L500.07,225.76L500.13,225.77L500.19,225.78L500.25,225.79L500.31,225.80L500.36,225.81L500.42,225.82L500.48,225.83L500.54,225.84L500.60,225.84L500.66,225.85L500.72,225.85L500.78,225.86L500.84,225.86L500.90,225.87L500.96,225.87L501.02,225.87L501.08,225.87L501.14,225.88L501.20,225.88L501.26,225.88L501.32,225.88L501.38,225.87L501.44,225.87L501.50,225.87L501.55,225.87L501.61,225.86L501.67,225.86L501.73,225.85L501.79,225.85L501.85,225.84L501.91,225.84L501.97,225.83L502.03,225.82L502.09,225.81L502.14,225.80L502.20,225.79L502.26,225.78L502.32,225.77L502.38,225.76L502.44,225.75L502.49,225.74L502.55,225.72L502.61,225.71L502.67,225.69L502.73,225.68L502.78,225.66L502.84,225.65L502.90,225.63L502.95,225.61L503.01,225.59L503.07,225.57L503.12,225.55L503.18,225.53L503.24,225.51L503.29,225.49L503.35,225.47L503.40,225.45L503.46,225.43L503.51,225.40L503.57,225.38Z"/><ellipse cx="500.9" cy="217.8" rx="6.8" ry="8.1" transform="rotate(-8 500.9 217.8)"/><path d="M614.07,228.89L614.13,228.86L614.19,228.83L614.25,228.80L614.31,228.76L614.36,228.73L614.42,228.70L614.48,228.67L614.53,228.63L614.59,228.60L614.65,228.57L614.70,228.53L614.76,228.50L614.81,228.46L614.87,228.42L614.92,228.39L614.98,228.35L615.03,228.31L615.08,228.27L615.14,228.23L615.19,228.19L615.24,228.15L615.29,228.11L615.35,228.07L615.40,228.03L615.45,227.98L615.50,227.94L615.55,227.90L615.60,227.85L615.65,227.81L615.70,227.76L615.75,227.72L615.80,227.67L615.85,227.63L615.89,227.58L615.94,227.53L615.99,227.48L616.04,227.43L616.08,227.39L616.13,227.34L616.17,227.29L616.22,227.24L616.26,227.19L616.31,227.13L616.35,227.08L616.40,227.03L616.44,226.98L616.48,226.93L616.52,226.87L616.57,226.82L616.61,226.76L616.65,226.71L616.69,226.65L616.73,226.60L616.77,226.54L616.81,226.49L616.85,226.43L616.89,226.37L616.92,226.32L616.96,226.26L617.00,226.20L617.04,226.14L617.07,226.08L617.11,226.02L617.14,225.96L617.18,225.90L617.21,225.84L617.24,225.78L617.28,225.72L617.31,225.66L617.34,225.60L617.37,225.54L617.41,225.48L617.44,225.41L617.47,225.35L617.50,225.29L617.53,225.22L617.55,225.16L617.58,225.09L617.61,225.03L617.64,224.97L617.66,224.90L617.69,224.84L617.72,224.77L617.74,224.70L617.77,224.64L617.79,224.57L617.81,224.51L617.84,224.44L617.86,224.37L617.88,224.30L617.90,224.24L617.92,224.17L617.94,224.10L617.96,224.03L617.98,223.96L618.00,223.90L618.02,223.83L618.04,223.76L618.06,223.69L618.07,223.62L618.09,223.55L618.10,223.48L618.12,223.41L618.13,223.34L618.15,223.27L618.16,223.20L618.17,223.13L618.19,223.06L618.20,222.99L618.21,222.92L618.22,222.85L618.23,222.78L618.24,222.70L618.25,222.63L618.26,222.56L618.26,222.49L618.27,222.42L618.28,222.35L618.28,222.27L618.29,222.20L618.29,222.13L618.30,222.06L618.30,221.99L618.31,221.91L618.31,221.84L618.31,221.77L618.31,221.70L618.31,221.63L618.31,221.55L618.31,221.48L618.31,221.41L618.31,221.34L618.31,221.26L618.31,221.19L618.31,221.12L618.30,221.05L618.30,220.98L618.29,220.90L618.29,220.83L618.28,220.76L618.28,220.69L618.27,220.61L618.26,220.54L618.25,220.47L618.24,220.40L618.24,220.33L618.23,220.25L618.22,220.18L618.21,220.11L618.19,220.04L618.18,219.97L618.17,219.90L618.16,219.83L618.14,219.75L618.13,219.68L618.11,219.61L618.10,219.54L618.08,219.47L618.07,219.40L618.05,219.33L618.03,219.26L618.01,219.19L618.00,219.12L617.98,219.05L617.96,218.98L617.94,218.91L617.92,218.84L617.90,218.77L617.87,218.71L617.85,218.64L617.83,218.57L617.81,218.50L617.78,218.43L617.76,218.36L617.73,218.30L617.71,218.23L617.68,218.16L617.66,218.10L617.63,218.03L617.60,217.96L617.57,217.90L617.54,217.83L617.52,217.77L617.49,217.70L617.46,217.63L617.43,217.57L617.39,217.51L617.36,217.44L617.33,217.38L617.30,217.31L617.27,217.25L617.23,217.19L617.20,217.13L617.16,217.06L617.13,217.00L617.09,216.94L617.06,216.88L617.02,216.82L616.99,216.76L616.95,216.70L616.91,216.64L616.87,216.58L616.83,216.52L616.79,216.46L616.76,216.40L616.72,216.34L616.67,216.28L616.63,216.23L616.59,216.17L616.55,216.11L616.51,216.06L616.47,216.00L616.42,215.95L616.38,215.89L616.34,215.84L616.29,215.78L616.25,215.73L616.20,215.67L616.16,215.62L616.11,215.57L616.07,215.52L616.02,215.47L615.97,215.41L615.92,215.36L615.88,215.31L615.83,215.26L615.78,215.21L615.73,215.17L615.68,215.12L615.63,215.07L615.58,215.02L615.53,214.98L615.48,214.93L615.43,214.88L615.38,214.84L615.33,214.79L615.27,214.75L615.22,214.70L615.17,214.66L615.12,214.62L615.06,214.57L615.01,214.53L614.96,214.49L614.90,214.45L614.85,214.41L614.79,214.37L614.74,214.33L614.68,214.29L614.62,214.25L614.57,214.22L614.51,214.18L614.46,214.14L614.40,214.11L614.34,214.07L614.28,214.03L614.23,214.00L614.17,213.97L614.11,213.93L614.05,213.90L613.99,213.87L613.93,213.84L613.88,213.80L613.82,213.77L613.76,213.74L613.70,213.71L613.64,213.69L613.58,213.66L613.52,213.63L613.46,213.60L613.39,213.58L613.33,213.55L613.27,213.53L613.21,213.50L613.15,213.48L613.09,213.45L613.03,213.43L612.96,213.41L612.90,213.39L612.84,213.36L612.78,213.34L612.71,213.32L612.65,213.30L612.59,213.29L612.52,213.27L612.46,213.25L612.40,213.23L612.33,213.22L612.27,213.20L612.21,213.19L612.14,213.17L612.08,213.16L612.02,213.14L611.95,213.13L611.89,213.12L611.82,213.11L611.76,213.10L611.70,213.09L611.63,213.08L611.57,213.07L611.50,213.06L611.44,213.05L611.37,213.05L611.31,213.04L611.24,213.04L611.18,213.03L611.11,213.03L611.05,213.02L610.99,213.02L610.92,213.02L610.86,213.01L610.79,213.01L610.73,213.01L610.66,213.01L610.60,213.01L610.53,213.01L610.47,213.02L610.40,213.02L610.34,213.02L610.27,213.03L610.21,213.03L610.15,213.04L610.08,213.04L610.02,213.05L609.95,213.05L609.89,213.06L609.82,213.07L609.76,213.08L609.70,213.09L609.63,213.10L609.57,213.11L609.51,213.12L609.44,213.13L609.38,213.14L609.32,213.16L609.25,213.17L609.19,213.19L609.13,213.20L609.06,213.22L609.00,213.23L608.94,213.25L608.88,213.27L608.81,213.29L608.75,213.30L608.69,213.32L608.63,213.34L608.57,213.36L608.51,213.39L608.44,213.41L608.38,213.43L608.32,213.45L608.26,213.48L608.20,213.50L608.14,213.52L608.08,213.55L608.02,213.58L607.96,213.60L607.90,213.63L607.84,213.66L607.79,213.69L607.73,213.71L580.13,227.61L580.07,227.64L580.01,227.67L579.95,227.70L579.89,227.74L579.84,227.77L579.78,227.80L579.72,227.83L579.67,227.87L579.61,227.90L579.55,227.93L579.50,227.97L579.44,228.00L579.39,228.04L579.33,228.08L579.28,228.11L579.22,228.15L579.17,228.19L579.12,228.23L579.06,228.27L579.01,228.31L578.96,228.35L578.91,228.39L578.85,228.43L578.80,228.47L578.75,228.52L578.70,228.56L578.65,228.60L578.60,228.65L578.55,228.69L578.50,228.74L578.45,228.78L578.40,228.83L578.35,228.87L578.31,228.92L578.26,228.97L578.21,229.02L578.16,229.07L578.12,229.11L578.07,229.16L578.03,229.21L577.98,229.26L577.94,229.31L577.89,229.37L577.85,229.42L577.80,229.47L577.76,229.52L577.72,229.57L577.68,229.63L577.63,229.68L577.59,229.74L577.55,229.79L577.51,229.85L577.47,229.90L577.43,229.96L577.39,230.01L577.35,230.07L577.31,230.13L577.28,230.18L577.24,230.24L577.20,230.30L577.16,230.36L577.13,230.42L577.09,230.48L577.06,230.54L577.02,230.60L576.99,230.66L576.96,230.72L576.92,230.78L576.89,230.84L576.86,230.90L576.83,230.96L576.79,231.02L576.76,231.09L576.73,231.15L576.70,231.21L576.67,231.28L576.65,231.34L576.62,231.41L576.59,231.47L576.56,231.53L576.54,231.60L576.51,231.66L576.48,231.73L576.46,231.80L576.43,231.86L576.41,231.93L576.39,231.99L576.36,232.06L576.34,232.13L576.32,232.20L576.30,232.26L576.28,232.33L576.26,232.40L576.24,232.47L576.22,232.54L576.20,232.60L576.18,232.67L576.16,232.74L576.14,232.81L576.13,232.88L576.11,232.95L576.10,233.02L576.08,233.09L576.07,233.16L576.05,233.23L576.04,233.30L576.03,233.37L576.01,233.44L576.00,233.51L575.99,233.58L575.98,233.65L575.97,233.72L575.96,233.80L575.95,233.87L575.94,233.94L575.94,234.01L575.93,234.08L575.92,234.15L575.92,234.23L575.91,234.30L575.91,234.37L575.90,234.44L575.90,234.51L575.89,234.59L575.89,234.66L575.89,234.73L575.89,234.80L575.89,234.87L575.89,234.95L575.89,235.02L575.89,235.09L575.89,235.16L575.89,235.24L575.89,235.31L575.89,235.38L575.90,235.45L575.90,235.52L575.91,235.60L575.91,235.67L575.92,235.74L575.92,235.81L575.93,235.89L575.94,235.96L575.95,236.03L575.96,236.10L575.96,236.17L575.97,236.25L575.98,236.32L575.99,236.39L576.01,236.46L576.02,236.53L576.03,236.60L576.04,236.67L576.06,236.75L576.07,236.82L576.09,236.89L576.10,236.96L576.12,237.03L576.13,237.10L576.15,237.17L576.17,237.24L576.19,237.31L576.20,237.38L576.22,237.45L576.24,237.52L576.26,237.59L576.28,237.66L576.30,237.73L576.33,237.79L576.35,237.86L576.37,237.93L576.39,238.00L576.42,238.07L576.44,238.14L576.47,238.20L576.49,238.27L576.52,238.34L576.54,238.40L576.57,238.47L576.60,238.54L576.63,238.60L576.66,238.67L576.68,238.73L576.71,238.80L576.74,238.87L576.77,238.93L576.81,238.99L576.84,239.06L576.87,239.12L576.90,239.19L576.93,239.25L576.97,239.31L577.00,239.37L577.04,239.44L577.07,239.50L577.11,239.56L577.14,239.62L577.18,239.68L577.21,239.74L577.25,239.80L577.29,239.86L577.33,239.92L577.37,239.98L577.41,240.04L577.44,240.10L577.48,240.16L577.53,240.22L577.57,240.27L577.61,240.33L577.65,240.39L577.69,240.44L577.73,240.50L577.78,240.55L577.82,240.61L577.86,240.66L577.91,240.72L577.95,240.77L578.00,240.83L578.04,240.88L578.09,240.93L578.13,240.98L578.18,241.03L578.23,241.09L578.28,241.14L578.32,241.19L578.37,241.24L578.42,241.29L578.47,241.33L578.52,241.38L578.57,241.43L578.62,241.48L578.67,241.52L578.72,241.57L578.77,241.62L578.82,241.66L578.87,241.71L578.93,241.75L578.98,241.80L579.03,241.84L579.08,241.88L579.14,241.93L579.19,241.97L579.24,242.01L579.30,242.05L579.35,242.09L579.41,242.13L579.46,242.17L579.52,242.21L579.58,242.25L579.63,242.28L579.69,242.32L579.74,242.36L579.80,242.39L579.86,242.43L579.92,242.47L579.97,242.50L580.03,242.53L580.09,242.57L580.15,242.60L580.21,242.63L580.27,242.66L580.32,242.70L580.38,242.73L580.44,242.76L580.50,242.79L580.56,242.81L580.62,242.84L580.68,242.87L580.74,242.90L580.81,242.92L580.87,242.95L580.93,242.97L580.99,243.00L581.05,243.02L581.11,243.05L581.17,243.07L581.24,243.09L581.30,243.11L581.36,243.14L581.42,243.16L581.49,243.18L581.55,243.20L581.61,243.21L581.68,243.23L581.74,243.25L581.80,243.27L581.87,243.28L581.93,243.30L581.99,243.31L582.06,243.33L582.12,243.34L582.18,243.36L582.25,243.37L582.31,243.38L582.38,243.39L582.44,243.40L582.50,243.41L582.57,243.42L582.63,243.43L582.70,243.44L582.76,243.45L582.83,243.45L582.89,243.46L582.96,243.46L583.02,243.47L583.09,243.47L583.15,243.48L583.21,243.48L583.28,243.48L583.34,243.49L583.41,243.49L583.47,243.49L583.54,243.49L583.60,243.49L583.67,243.49L583.73,243.48L583.80,243.48L583.86,243.48L583.93,243.47L583.99,243.47L584.05,243.46L584.12,243.46L584.18,243.45L584.25,243.45L584.31,243.44L584.38,243.43L584.44,243.42L584.50,243.41L584.57,243.40L584.63,243.39L584.69,243.38L584.76,243.37L584.82,243.36L584.88,243.34L584.95,243.33L585.01,243.31L585.07,243.30L585.14,243.28L585.20,243.27L585.26,243.25L585.32,243.23L585.39,243.21L585.45,243.20L585.51,243.18L585.57,243.16L585.63,243.14L585.69,243.11L585.76,243.09L585.82,243.07L585.88,243.05L585.94,243.02L586.00,243.00L586.06,242.98L586.12,242.95L586.18,242.92L586.24,242.90L586.30,242.87L586.36,242.84L586.41,242.81L586.47,242.79Z"/><ellipse cx="583.3" cy="235.2" rx="7.4" ry="8.3" transform="rotate(-7 583.3 235.2)"/><path d="M701.31,246.83L701.37,246.79L701.43,246.76L701.49,246.72L701.55,246.69L701.61,246.65L701.67,246.61L701.73,246.57L701.79,246.54L701.85,246.50L701.90,246.46L701.96,246.42L702.02,246.38L702.07,246.33L702.13,246.29L702.19,246.25L702.24,246.21L702.30,246.16L702.35,246.12L702.41,246.08L702.46,246.03L702.51,245.98L702.57,245.94L702.62,245.89L702.67,245.84L702.72,245.80L702.78,245.75L702.83,245.70L702.88,245.65L702.93,245.60L702.98,245.55L703.03,245.50L703.08,245.45L703.13,245.40L703.17,245.35L703.22,245.29L703.27,245.24L703.32,245.19L703.36,245.13L703.41,245.08L703.46,245.02L703.50,244.97L703.55,244.91L703.59,244.86L703.63,244.80L703.68,244.74L703.72,244.69L703.76,244.63L703.81,244.57L703.85,244.51L703.89,244.45L703.93,244.39L703.97,244.33L704.01,244.27L704.05,244.21L704.09,244.15L704.12,244.09L704.16,244.03L704.20,243.97L704.24,243.90L704.27,243.84L704.31,243.78L704.34,243.71L704.38,243.65L704.41,243.59L704.44,243.52L704.48,243.46L704.51,243.39L704.54,243.32L704.57,243.26L704.60,243.19L704.63,243.13L704.66,243.06L704.69,242.99L704.72,242.93L704.75,242.86L704.78,242.79L704.80,242.72L704.83,242.65L704.86,242.58L704.88,242.52L704.91,242.45L704.93,242.38L704.95,242.31L704.98,242.24L705.00,242.17L705.02,242.10L705.04,242.03L705.06,241.96L705.08,241.88L705.10,241.81L705.12,241.74L705.14,241.67L705.16,241.60L705.18,241.53L705.19,241.45L705.21,241.38L705.22,241.31L705.24,241.24L705.25,241.16L705.27,241.09L705.28,241.02L705.29,240.94L705.30,240.87L705.32,240.80L705.33,240.72L705.34,240.65L705.35,240.58L705.36,240.50L705.36,240.43L705.37,240.35L705.38,240.28L705.39,240.20L705.39,240.13L705.40,240.06L705.40,239.98L705.41,239.91L705.41,239.83L705.41,239.76L705.41,239.68L705.42,239.61L705.42,239.53L705.42,239.46L705.42,239.38L705.42,239.31L705.42,239.23L705.41,239.16L705.41,239.08L705.41,239.01L705.40,238.93L705.40,238.86L705.40,238.78L705.39,238.71L705.38,238.63L705.38,238.56L705.37,238.49L705.36,238.41L705.35,238.34L705.34,238.26L705.34,238.19L705.33,238.11L705.31,238.04L705.30,237.96L705.29,237.89L705.28,237.82L705.26,237.74L705.25,237.67L705.24,237.59L705.22,237.52L705.21,237.45L705.19,237.37L705.17,237.30L705.16,237.23L705.14,237.16L705.12,237.08L705.10,237.01L705.08,236.94L705.06,236.87L705.04,236.79L705.02,236.72L705.00,236.65L704.97,236.58L704.95,236.51L704.93,236.44L704.90,236.37L704.88,236.30L704.85,236.23L704.83,236.15L704.80,236.09L704.77,236.02L704.75,235.95L704.72,235.88L704.69,235.81L704.66,235.74L704.63,235.67L704.60,235.60L704.57,235.53L704.54,235.47L704.51,235.40L704.47,235.33L704.44,235.27L704.41,235.20L704.37,235.13L704.34,235.07L704.30,235.00L704.27,234.94L704.23,234.87L704.19,234.81L704.16,234.74L704.12,234.68L704.08,234.62L704.04,234.55L704.00,234.49L703.96,234.43L703.92,234.37L703.88,234.30L703.84,234.24L703.80,234.18L703.76,234.12L703.72,234.06L703.67,234.00L703.63,233.94L703.58,233.88L703.54,233.82L703.50,233.77L703.45,233.71L703.40,233.65L703.36,233.59L703.31,233.54L703.26,233.48L703.22,233.43L703.17,233.37L703.12,233.32L703.07,233.26L703.02,233.21L702.97,233.15L702.92,233.10L702.87,233.05L702.82,233.00L702.77,232.95L702.72,232.89L702.67,232.84L702.61,232.79L702.56,232.74L702.51,232.69L702.45,232.65L702.40,232.60L702.34,232.55L702.29,232.50L702.23,232.46L702.18,232.41L702.12,232.36L702.07,232.32L702.01,232.28L701.95,232.23L701.90,232.19L701.84,232.14L701.78,232.10L701.72,232.06L701.66,232.02L701.60,231.98L701.54,231.94L701.48,231.90L701.43,231.86L701.36,231.82L701.30,231.78L701.24,231.75L701.18,231.71L701.12,231.67L701.06,231.64L701.00,231.60L700.94,231.57L700.87,231.53L700.81,231.50L700.75,231.47L700.68,231.43L700.62,231.40L700.56,231.37L700.49,231.34L700.43,231.31L700.37,231.28L700.30,231.25L700.24,231.23L700.17,231.20L700.11,231.17L700.04,231.15L699.98,231.12L699.91,231.09L699.84,231.07L699.78,231.05L699.71,231.02L699.64,231.00L699.58,230.98L699.51,230.96L699.44,230.94L699.38,230.92L699.31,230.90L699.24,230.88L699.18,230.86L699.11,230.84L699.04,230.83L698.97,230.81L698.90,230.80L698.84,230.78L698.77,230.77L698.70,230.75L698.63,230.74L698.56,230.73L698.49,230.72L698.43,230.70L698.36,230.69L698.29,230.68L698.22,230.68L698.15,230.67L698.08,230.66L698.01,230.65L697.94,230.65L697.88,230.64L697.81,230.63L697.74,230.63L697.67,230.63L697.60,230.62L697.53,230.62L697.46,230.62L697.39,230.62L697.32,230.62L697.25,230.62L697.18,230.62L697.12,230.62L697.05,230.62L696.98,230.62L696.91,230.63L696.84,230.63L696.77,230.64L696.70,230.64L696.63,230.65L696.56,230.65L696.50,230.66L696.43,230.67L696.36,230.68L696.29,230.69L696.22,230.70L696.15,230.71L696.09,230.72L696.02,230.73L695.95,230.74L695.88,230.75L695.82,230.77L695.75,230.78L695.68,230.80L695.61,230.81L695.55,230.83L695.48,230.85L695.41,230.86L695.35,230.88L695.28,230.90L695.21,230.92L695.15,230.94L695.08,230.96L695.02,230.98L694.95,231.00L694.89,231.03L694.82,231.05L694.76,231.07L694.69,231.10L694.63,231.12L694.56,231.15L694.50,231.17L694.43,231.20L694.37,231.23L694.31,231.26L694.24,231.29L694.18,231.32L694.12,231.35L694.06,231.38L693.99,231.41L693.93,231.44L693.87,231.47L693.81,231.50L693.75,231.54L693.69,231.57L667.99,246.07L667.93,246.11L667.87,246.14L667.81,246.18L667.75,246.21L667.69,246.25L667.63,246.29L667.57,246.33L667.51,246.36L667.45,246.40L667.40,246.44L667.34,246.48L667.28,246.52L667.23,246.57L667.17,246.61L667.11,246.65L667.06,246.69L667.00,246.74L666.95,246.78L666.89,246.82L666.84,246.87L666.79,246.92L666.73,246.96L666.68,247.01L666.63,247.06L666.58,247.10L666.52,247.15L666.47,247.20L666.42,247.25L666.37,247.30L666.32,247.35L666.27,247.40L666.22,247.45L666.17,247.50L666.13,247.55L666.08,247.61L666.03,247.66L665.98,247.71L665.94,247.77L665.89,247.82L665.84,247.88L665.80,247.93L665.75,247.99L665.71,248.04L665.67,248.10L665.62,248.16L665.58,248.21L665.54,248.27L665.49,248.33L665.45,248.39L665.41,248.45L665.37,248.51L665.33,248.57L665.29,248.63L665.25,248.69L665.21,248.75L665.18,248.81L665.14,248.87L665.10,248.93L665.06,249.00L665.03,249.06L664.99,249.12L664.96,249.19L664.92,249.25L664.89,249.31L664.86,249.38L664.82,249.44L664.79,249.51L664.76,249.58L664.73,249.64L664.70,249.71L664.67,249.77L664.64,249.84L664.61,249.91L664.58,249.97L664.55,250.04L664.52,250.11L664.50,250.18L664.47,250.25L664.44,250.32L664.42,250.38L664.39,250.45L664.37,250.52L664.35,250.59L664.32,250.66L664.30,250.73L664.28,250.80L664.26,250.87L664.24,250.94L664.22,251.02L664.20,251.09L664.18,251.16L664.16,251.23L664.14,251.30L664.12,251.37L664.11,251.45L664.09,251.52L664.08,251.59L664.06,251.66L664.05,251.74L664.03,251.81L664.02,251.88L664.01,251.96L664.00,252.03L663.98,252.10L663.97,252.18L663.96,252.25L663.95,252.32L663.94,252.40L663.94,252.47L663.93,252.55L663.92,252.62L663.91,252.70L663.91,252.77L663.90,252.84L663.90,252.92L663.89,252.99L663.89,253.07L663.89,253.14L663.89,253.22L663.88,253.29L663.88,253.37L663.88,253.44L663.88,253.52L663.88,253.59L663.88,253.67L663.89,253.74L663.89,253.82L663.89,253.89L663.90,253.97L663.90,254.04L663.90,254.12L663.91,254.19L663.92,254.27L663.92,254.34L663.93,254.41L663.94,254.49L663.95,254.56L663.96,254.64L663.96,254.71L663.97,254.79L663.99,254.86L664.00,254.94L664.01,255.01L664.02,255.08L664.04,255.16L664.05,255.23L664.06,255.31L664.08,255.38L664.09,255.45L664.11,255.53L664.13,255.60L664.14,255.67L664.16,255.74L664.18,255.82L664.20,255.89L664.22,255.96L664.24,256.03L664.26,256.11L664.28,256.18L664.30,256.25L664.33,256.32L664.35,256.39L664.37,256.46L664.40,256.53L664.42,256.60L664.45,256.67L664.47,256.75L664.50,256.81L664.53,256.88L664.55,256.95L664.58,257.02L664.61,257.09L664.64,257.16L664.67,257.23L664.70,257.30L664.73,257.37L664.76,257.43L664.79,257.50L664.83,257.57L664.86,257.63L664.89,257.70L664.93,257.77L664.96,257.83L665.00,257.90L665.03,257.96L665.07,258.03L665.11,258.09L665.14,258.16L665.18,258.22L665.22,258.28L665.26,258.35L665.30,258.41L665.34,258.47L665.38,258.53L665.42,258.60L665.46,258.66L665.50,258.72L665.54,258.78L665.58,258.84L665.63,258.90L665.67,258.96L665.72,259.02L665.76,259.08L665.80,259.13L665.85,259.19L665.90,259.25L665.94,259.31L665.99,259.36L666.04,259.42L666.08,259.47L666.13,259.53L666.18,259.58L666.23,259.64L666.28,259.69L666.33,259.75L666.38,259.80L666.43,259.85L666.48,259.90L666.53,259.95L666.58,260.01L666.63,260.06L666.69,260.11L666.74,260.16L666.79,260.21L666.85,260.25L666.90,260.30L666.96,260.35L667.01,260.40L667.07,260.44L667.12,260.49L667.18,260.54L667.23,260.58L667.29,260.62L667.35,260.67L667.40,260.71L667.46,260.76L667.52,260.80L667.58,260.84L667.64,260.88L667.70,260.92L667.76,260.96L667.82,261.00L667.87,261.04L667.94,261.08L668.00,261.12L668.06,261.15L668.12,261.19L668.18,261.23L668.24,261.26L668.30,261.30L668.36,261.33L668.43,261.37L668.49,261.40L668.55,261.43L668.62,261.47L668.68,261.50L668.74,261.53L668.81,261.56L668.87,261.59L668.93,261.62L669.00,261.65L669.06,261.67L669.13,261.70L669.19,261.73L669.26,261.75L669.32,261.78L669.39,261.81L669.46,261.83L669.52,261.85L669.59,261.88L669.66,261.90L669.72,261.92L669.79,261.94L669.86,261.96L669.92,261.98L669.99,262.00L670.06,262.02L670.12,262.04L670.19,262.06L670.26,262.07L670.33,262.09L670.40,262.10L670.46,262.12L670.53,262.13L670.60,262.15L670.67,262.16L670.74,262.17L670.81,262.18L670.87,262.20L670.94,262.21L671.01,262.22L671.08,262.22L671.15,262.23L671.22,262.24L671.29,262.25L671.36,262.25L671.42,262.26L671.49,262.27L671.56,262.27L671.63,262.27L671.70,262.28L671.77,262.28L671.84,262.28L671.91,262.28L671.98,262.28L672.05,262.28L672.12,262.28L672.18,262.28L672.25,262.28L672.32,262.28L672.39,262.27L672.46,262.27L672.53,262.26L672.60,262.26L672.67,262.25L672.74,262.25L672.80,262.24L672.87,262.23L672.94,262.22L673.01,262.21L673.08,262.20L673.15,262.19L673.21,262.18L673.28,262.17L673.35,262.16L673.42,262.15L673.48,262.13L673.55,262.12L673.62,262.10L673.69,262.09L673.75,262.07L673.82,262.05L673.89,262.04L673.95,262.02L674.02,262.00L674.09,261.98L674.15,261.96L674.22,261.94L674.28,261.92L674.35,261.90L674.41,261.87L674.48,261.85L674.54,261.83L674.61,261.80L674.67,261.78L674.74,261.75L674.80,261.73L674.87,261.70L674.93,261.67L674.99,261.64L675.06,261.61L675.12,261.58L675.18,261.55L675.24,261.52L675.31,261.49L675.37,261.46L675.43,261.43L675.49,261.40L675.55,261.36L675.61,261.33Z"/><ellipse cx="671.8" cy="253.7" rx="7.9" ry="8.6" transform="rotate(-9 671.8 253.7)"/></g>
<path d="M530.60,173.30L530.66,174.05L530.85,174.80L531.16,175.56L531.58,176.32L532.12,177.08L532.75,177.83L533.48,178.56L534.31,179.28L535.22,179.99L536.22,180.67L537.29,181.32L538.44,181.95L539.65,182.54L540.92,183.09L542.24,183.61L543.62,184.08L545.04,184.50L546.50,184.88L548.00,185.19L842.80,241.50L842.60,263.30L552.50,205.72L550.71,205.34L548.94,204.91L547.21,204.45L545.51,203.96L543.87,203.44L542.28,202.89L540.75,202.31L539.30,201.72L537.93,201.12L536.65,200.50L535.47,199.88L534.40,199.26L533.44,198.64L532.61,198.03L531.91,197.43L531.35,196.84L530.94,196.27L530.69,195.72L530.60,195.20Z" fill="#fff"/><path d="M561.20,155.00L532.60,167.60L532.24,167.84L531.90,168.21L531.59,168.70L531.31,169.30L531.07,169.99L530.87,170.75L530.73,171.57L530.63,172.42L530.60,173.30L530.66,174.05L530.85,174.80L531.16,175.56L531.58,176.32L532.12,177.08L532.75,177.83L533.48,178.56L534.31,179.28L535.22,179.99L536.22,180.67L537.29,181.32L538.44,181.95L539.65,182.54L540.92,183.09L542.24,183.61L543.62,184.08L545.04,184.50L546.50,184.88L548.00,185.19L842.80,241.50L861.30,228.40L724.30,202.90L724.30,183.60Z" fill="#fff"/>
<g fill="none" stroke="#231f20" stroke-width="1.35" stroke-linejoin="round" stroke-linecap="round"><path d="M561.20,155.00L724.30,183.60"/><path d="M561.20,155.00L532.60,167.60L532.24,167.84L531.90,168.21L531.59,168.70L531.31,169.30L531.07,169.99L530.87,170.75L530.73,171.57L530.63,172.42L530.60,173.30L530.66,174.05L530.85,174.80L531.16,175.56L531.58,176.32L532.12,177.08L532.75,177.83L533.48,178.56L534.31,179.28L535.22,179.99L536.22,180.67L537.29,181.32L538.44,181.95L539.65,182.54L540.92,183.09L542.24,183.61L543.62,184.08L545.04,184.50L546.50,184.88L548.00,185.19L842.80,241.50"/><path d="M530.60,173.30L530.60,195.20"/><path d="M530.60,195.20L530.69,195.72L530.94,196.27L531.35,196.84L531.91,197.43L532.61,198.03L533.44,198.64L534.40,199.26L535.47,199.88L536.65,200.50L537.93,201.12L539.30,201.72L540.75,202.31L542.28,202.89L543.87,203.44L545.51,203.96L547.21,204.45L548.94,204.91L550.71,205.34L552.50,205.72L842.60,263.30"/><path d="M842.80,241.50L861.30,228.40L860.10,249.60L842.60,263.30Z"/><path d="M724.30,202.90L861.30,228.40"/></g>
<g fill="none" stroke="#231f20" stroke-width="0.9"><path d="M288.00,239.40L508.30,292.40"/><path d="M549.40,302.30L830.00,370.50"/><path d="M407.70,222.90L553.60,255.80"/><path d="M593.60,264.40L765.00,302.20"/><path d="M408.30,158.30L420.00,153.70"/><path d="M449.80,143.00L462.50,138.10"/><path d="M1018.00,155.30L1009.50,236.90"/><path d="M1007.30,253.50L998.50,329.10"/><path d="M288.00,239.40L495.30,154.00"/><path d="M407.70,222.90L531.70,168.10"/><path d="M408.30,158.30L540.40,183.60"/><path d="M462.50,138.10L557.80,154.50"/><path d="M902.00,138.22L1018.00,155.30"/><path d="M872.56,302.85L998.50,329.10"/><path d="M1018.00,155.30L1024.80,156.30"/><path d="M998.50,329.10L1004.50,330.40"/><path d="M998.50,329.10L997.90,334.60"/></g>
<g fill="none" stroke="#231f20" stroke-width="1.2"><path d="M765.00,302.20L842.80,241.50"/><path d="M830.00,370.50L967.60,239.40"/></g>
<g fill="none" stroke="#231f20" stroke-width="1.1" stroke-linecap="round"><path d="M288.00,239.40L284.11,238.46"/><path d="M288.00,239.40L284.30,240.92"/><path d="M289.20,241.36L286.80,237.44"/><path d="M407.70,222.90L403.80,222.02"/><path d="M407.70,222.90L404.04,224.52"/><path d="M408.93,224.84L406.47,220.96"/><path d="M408.30,158.30L404.58,159.76"/><path d="M408.30,158.30L404.37,157.55"/><path d="M410.41,159.22L406.19,157.38"/><path d="M462.50,138.10L466.23,136.66"/><path d="M462.50,138.10L458.56,137.42"/><path d="M460.40,137.17L464.60,139.03"/><path d="M765.00,302.20L768.91,303.06"/><path d="M765.00,302.20L761.85,304.66"/><path d="M763.76,300.26L766.24,304.14"/><path d="M830.00,370.50L833.89,371.44"/><path d="M830.00,370.50L827.10,373.26"/><path d="M828.80,368.54L831.20,372.46"/></g>
<g fill="none" stroke="#231f20" stroke-width="1.9"><path d="M1013.94,150.22L1022.06,160.38"/><path d="M994.23,324.20L1002.77,334.00"/></g>
<g role="img" aria-label="3 1/2&quot;"><text style='font-family:"Liberation Sans",sans-serif;font-weight:bold;fill:#000;font-size:14.1px' y="153.0"><tspan x="418.1">3</tspan><tspan x="436.4">/</tspan><tspan x="441.6">2</tspan><tspan x="448.6">&quot;</tspan></text><path fill="none" stroke="#000" stroke-linejoin="bevel" stroke-width="2.05" d="M430.90,146.00L433.80,143.00V153.00"/></g>
<g role="img" aria-label="1'-1&quot;"><text style='font-family:"Liberation Sans",sans-serif;font-weight:bold;fill:#000;font-size:18.6px' y="266.6"><tspan x="564.5">'</tspan><tspan x="568.4">-</tspan><tspan x="583.6">&quot;</tspan></text><path fill="none" stroke="#000" stroke-linejoin="bevel" stroke-width="2.5" d="M556.40,257.60L560.90,253.80V266.60"/><path fill="none" stroke="#000" stroke-linejoin="bevel" stroke-width="2.5" d="M575.90,257.60L580.40,253.80V266.60"/></g>
<g role="img" aria-label="1'-7&quot;"><text style='font-family:"Liberation Sans",sans-serif;font-weight:bold;fill:#000;font-size:18.8px' y="303.8"><tspan x="519.1">'</tspan><tspan x="523.35">-</tspan><tspan x="529.85">7</tspan><tspan x="539.5">&quot;</tspan></text><path fill="none" stroke="#000" stroke-linejoin="bevel" stroke-width="2.5" d="M510.90,294.70L515.40,290.90V303.80"/></g>
<g role="img" aria-label="6&quot;"><text style='font-family:"Liberation Sans",sans-serif;font-weight:bold;fill:#000;font-size:17.2px' y="251.0"><tspan x="1001.2">6</tspan><tspan x="1009.8">&quot;</tspan></text></g>
</g>
</svg>
</body></html>
